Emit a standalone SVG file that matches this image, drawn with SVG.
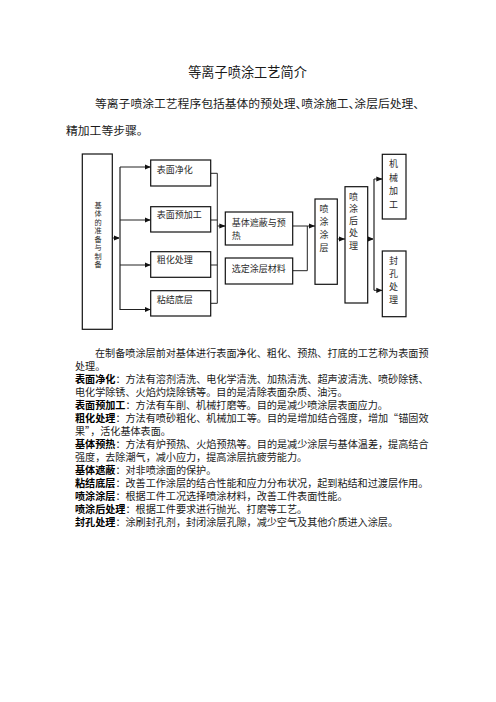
<svg xmlns="http://www.w3.org/2000/svg" width="496" height="702" viewBox="0 0 496 702" xml:lang="zh-CN">
<style>
text{font-family:"Noto Sans CJK SC","Noto Sans CJK JP",sans-serif;fill:#1a1a1a}
.title{font-size:13.2px}
.p{font-size:11.8px}
.b{font-size:10.1px}
.bd{font-weight:bold;fill:#000}
.lbl{font-size:9px;fill:#2a2a2a}
.vl{font-size:9px;fill:#2a2a2a;writing-mode:vertical-rl}
.vs{font-size:7.2px;fill:#2a2a2a;writing-mode:vertical-rl;letter-spacing:1.3px}
.box{fill:#fff;stroke:#111;stroke-width:1.2}
.ln{fill:none;stroke:#222;stroke-width:1}
.bus{fill:none;stroke:#7a7a7a;stroke-width:2}
.ar{marker-end:url(#ah)}
</style>
<defs>
<marker id="ah" markerUnits="userSpaceOnUse" markerWidth="6" markerHeight="6" refX="6" refY="3" orient="auto">
<path d="M0,0.4 L6,3 L0,5.6 z" fill="#111"/>
</marker>
</defs>
<rect width="496" height="702" fill="#fff"/>

<text class="title" x="247.5" y="77.4" text-anchor="middle">等离子喷涂工艺简介</text>
<text class="p" x="95" y="108">等离子喷涂工艺程序包括基体的预处理、<tspan dx="-6">喷涂施工、</tspan><tspan dx="-6">涂层后处理、</tspan></text>
<text class="p" x="66" y="134.7">精加工等步骤。</text>

<g id="connectors">
<path class="ln ar" d="M112.3,238 H120"/>
<path class="bus" d="M120,167 V310"/>
<path class="ln ar" d="M120,167 H150.7"/>
<path class="ln ar" d="M120,220 H150.7"/>
<path class="ln ar" d="M120,265 H150.7"/>
<path class="ln ar" d="M120,309.5 H150.7"/>
<path class="ln" d="M210.7,173.3 H217.3 M210.7,220 H217.3 M210.7,265 H217.3 M210.7,303.3 H217.3 M217.3,173.3 V303.3"/>
<path class="ln ar" d="M217.3,226 H225.3"/>
<path class="ln" d="M292.7,226 H307.3 M292.7,270.7 H307.3 M307.3,226 V270.7"/>
<path class="ln ar" d="M307.3,226 H315"/>
<path class="ln ar" d="M337.3,239 H345"/>
<path class="ln ar" d="M367.7,239 H374"/>
<path class="bus" d="M374,179 V290.3"/>
<path class="ln ar" d="M374,179 H382.3"/>
<path class="ln ar" d="M374,290.3 H382.3"/>
</g>

<g id="n-prep">
<rect class="box" x="82.3" y="154" width="30" height="175.3"/>
<text class="vs" x="98" y="201.6">基体的准备与制备</text>
</g>
<g id="n-clean">
<rect class="box" x="150.7" y="160" width="60" height="26"/>
<text class="lbl" x="156.7" y="173.3">表面净化</text>
</g>
<g id="n-premachine">
<rect class="box" x="150.7" y="206.7" width="60" height="25.3"/>
<text class="lbl" x="156.7" y="218.3">表面预加工</text>
</g>
<g id="n-rough">
<rect class="box" x="150.7" y="251.7" width="60" height="25.6"/>
<text class="lbl" x="156.7" y="263.3">粗化处理</text>
</g>
<g id="n-bond">
<rect class="box" x="150.7" y="290.7" width="60" height="25.3"/>
<text class="lbl" x="156.7" y="303.3">粘结底层</text>
</g>
<g id="n-mask">
<rect class="box" x="225.3" y="212" width="67.4" height="33"/>
<text class="lbl" x="231.7" y="226">基体遮蔽与预</text>
<text class="lbl" x="231.7" y="239.3">热</text>
</g>
<g id="n-material">
<rect class="box" x="225.3" y="258" width="67.4" height="26"/>
<text class="lbl" x="231.7" y="271.6">选定涂层材料</text>
</g>
<g id="n-spray">
<rect class="box" x="315" y="199" width="22.3" height="85.3"/>
<text class="vl" x="324" y="203.8" style="letter-spacing:4.2px">喷涂涂层</text>
</g>
<g id="n-post">
<rect class="box" x="345" y="186.7" width="22.7" height="116.3"/>
<text class="vl" x="353.5" y="192.2" style="letter-spacing:3.1px">喷涂后处理</text>
</g>
<g id="n-machine">
<rect class="box" x="382.3" y="154.3" width="23.7" height="64.7"/>
<text class="vl" x="393.5" y="159.5" style="letter-spacing:4.5px">机械加工</text>
</g>
<g id="n-seal">
<rect class="box" x="382.3" y="251" width="23.7" height="65.7"/>
<text class="vl" x="393.5" y="256.5" style="letter-spacing:4px">封孔处理</text>
</g>

<g id="body">
<text class="b" x="95" y="357.2" textLength="333.5" lengthAdjust="spacing">在制备喷涂层前对基体进行表面净化、粗化、预热、打底的工艺称为表面预</text>
<text class="b" x="75" y="370.2">处理。</text>
<text class="b" x="75" y="383.2" textLength="353.5" lengthAdjust="spacing"><tspan class="bd">表面净化</tspan>：方法有溶剂清洗、电化学清洗、加热清洗、超声波清洗、喷砂除锈、</text>
<text class="b" x="75" y="396.2">电化学除锈、火焰灼烧除锈等。目的是清除表面杂质、油污。</text>
<text class="b" x="75" y="409.2"><tspan class="bd">表面预加工</tspan>：方法有车削、机械打磨等。目的是减少喷涂层表面应力。</text>
<text class="b" x="75" y="422.2" textLength="353.5" lengthAdjust="spacing"><tspan class="bd">粗化处理</tspan>：方法有喷砂粗化、机械加工等。目的是增加结合强度，增加“锚固效</text>
<text class="b" x="75" y="435.2">果”，活化基体表面。</text>
<text class="b" x="75" y="448.2" textLength="353.5" lengthAdjust="spacing"><tspan class="bd">基体预热</tspan>：方法有炉预热、火焰预热等。目的是减少涂层与基体温差，提高结合</text>
<text class="b" x="75" y="461.2">强度，去除潮气，减小应力，提高涂层抗疲劳能力。</text>
<text class="b" x="75" y="474.2"><tspan class="bd">基体遮蔽</tspan>：对非喷涂面的保护。</text>
<text class="b" x="75" y="487.2"><tspan class="bd">粘结底层</tspan>：改善工作涂层的结合性能和应力分布状况，起到粘结和过渡层作用。</text>
<text class="b" x="75" y="500.2"><tspan class="bd">喷涂涂层</tspan>：根据工件工况选择喷涂材料，改善工件表面性能。</text>
<text class="b" x="75" y="513.2"><tspan class="bd">喷涂后处理</tspan>：根据工件要求进行抛光、打磨等工艺。</text>
<text class="b" x="75" y="526.2"><tspan class="bd">封孔处理</tspan>：涂刷封孔剂，封闭涂层孔隙，减少空气及其他介质进入涂层。</text>
</g>
</svg>
